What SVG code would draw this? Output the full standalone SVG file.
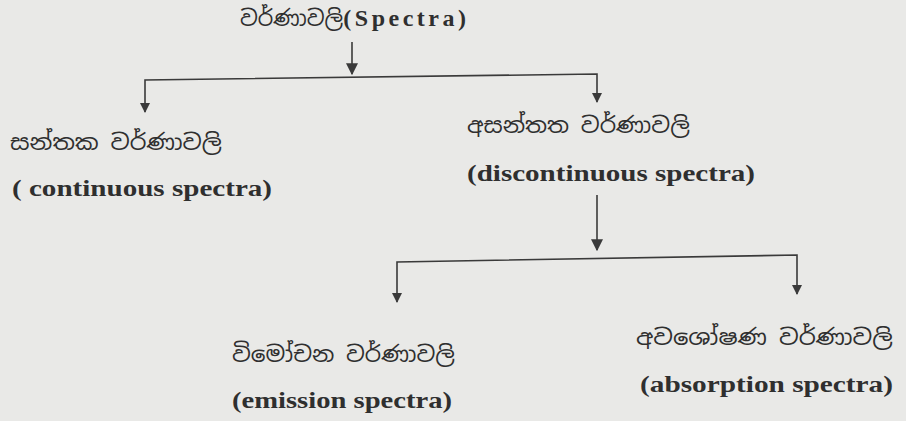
<svg xmlns="http://www.w3.org/2000/svg" width="906" height="421" viewBox="0 0 906 421">
<style>
.en{font-family:"Liberation Serif","Times New Roman",serif;font-weight:bold;font-size:24px;fill:#2f2f2f}
.si{font-family:"Noto Sans Sinhala","Iskoola Pota","Noto Sans",sans-serif;font-size:22px;fill:#2f2f2f}
.c{fill:none;stroke:#3a3a3a;stroke-width:1.6}
</style>
<defs>
<marker id="ah2" viewBox="0 0 10 10" refX="9" refY="5" markerWidth="12" markerHeight="12" orient="auto" markerUnits="userSpaceOnUse">
<path d="M0,0 L10,5 L0,10 z" fill="#3a3a3a"/>
</marker>
</defs>
<rect width="906" height="421" fill="#e9e9e7"/>
<g id="connectors">
<line class="c" x1="352" y1="42" x2="352" y2="74" marker-end="url(#ah2)"/>
<polyline class="c" points="145,112 145,80 597,74 597,102"/>
<path d="M140,103 L150,103 L145,113 z" fill="#3a3a3a"/>
<path d="M592,93 L602,93 L597,103 z" fill="#3a3a3a"/>
<line class="c" x1="597" y1="195" x2="597" y2="250" marker-end="url(#ah2)"/>
<polyline class="c" points="397,302 397,262 797,255 797,294"/>
<path d="M392,293 L402,293 L397,303 z" fill="#3a3a3a"/>
<path d="M792,285 L802,285 L797,295 z" fill="#3a3a3a"/>
</g>
<g id="spectra">
<text x="240" y="26"><tspan class="si" font-size="19">වර්ණාවලි</tspan><tspan class="en" font-size="26" letter-spacing="3.5">(Spectra)</tspan></text>
</g>
<g id="continuous">
<text class="si" x="10" y="150" textLength="212" lengthAdjust="spacingAndGlyphs">සන්තක වර්ණාවලි</text>
<text class="en" x="12" y="196" textLength="260" lengthAdjust="spacingAndGlyphs">( continuous spectra)</text>
</g>
<g id="discontinuous">
<text class="si" x="467" y="133" textLength="223" lengthAdjust="spacingAndGlyphs">අසන්තත වර්ණාවලි</text>
<text class="en" x="467" y="181" textLength="288" lengthAdjust="spacingAndGlyphs">(discontinuous spectra)</text>
</g>
<g id="emission">
<text class="si" x="232" y="362" textLength="223" lengthAdjust="spacingAndGlyphs">විමෝචන වර්ණාවලි</text>
<text class="en" x="232" y="408" textLength="220" lengthAdjust="spacingAndGlyphs">(emission spectra)</text>
</g>
<g id="absorption">
<text class="si" x="636" y="345" textLength="257" lengthAdjust="spacingAndGlyphs">අවශෝෂණ වර්ණාවලි</text>
<text class="en" x="640" y="392" textLength="253" lengthAdjust="spacingAndGlyphs">(absorption spectra)</text>
</g>
</svg>
